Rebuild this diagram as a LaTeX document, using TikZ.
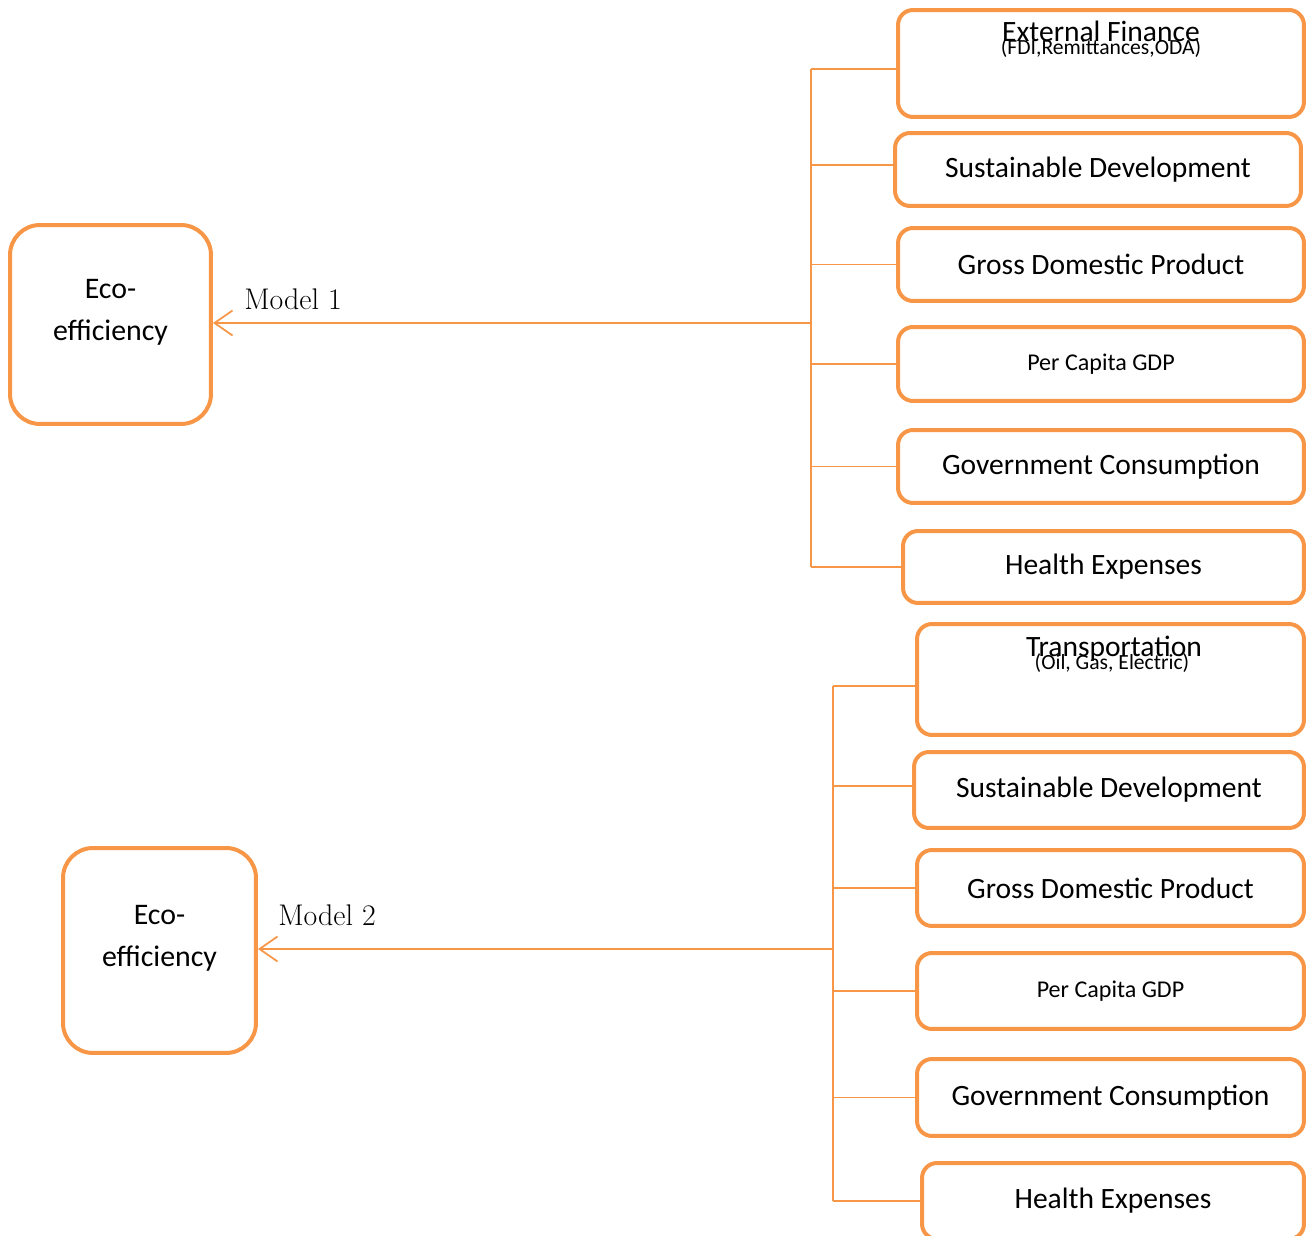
\documentclass[tikz,border=0pt]{standalone}
\usepackage{fontspec}
\setsansfont{Carlito}
\usepackage{xcolor}
\usetikzlibrary{arrows.meta,positioning}
\definecolor{accentorange}{HTML}{F79646}
\tikzset{
  factorbox/.style={draw=accentorange,line width=0.08cm,rounded corners=0.3cm,
    minimum width=8.12cm,minimum height=1.46cm,inner sep=0pt,
    font=\sffamily\fontsize{16.8}{20}\selectfont},
  ecobox/.style={draw=accentorange,line width=0.08cm,rounded corners=0.6cm,inner sep=0pt},
  ecotext/.style={align=center,inner sep=0pt,font=\sffamily\fontsize{17}{24}\selectfont},
  branch/.style={draw=accentorange,line width=0.035cm},
  feed/.style={branch,-{Straight Barb[length=0.36cm,width=0.5cm,line width=0.035cm]}},
  modellabel/.style={font=\fontsize{17}{20}\selectfont},
  smalltext/.style={font=\sffamily\fontsize{13.7}{16}\selectfont},
  subtext/.style={font=\sffamily\fontsize{12.3}{14}\selectfont,anchor=base},
  headtext/.style={font=\sffamily\fontsize{16.8}{20}\selectfont,anchor=base}
}
\begin{document}
\begin{tikzpicture}[x=0.02cm,y=-0.02cm]
  \useasboundingbox (0,0) rectangle (1306,1236);

  % Model 1 boxes
  \node [factorbox,minimum height=2.14cm] (extfin) at (1101,63.5) {};
  \node [headtext] (extfintitle) at (1101,42) {External Finance};
  \node [subtext] (extfinsub) at (1101,55) {(FDI,Remittances,ODA)};
  \node [factorbox] (susdevA) at (1098,169.5) {Sustainable Development};
  \node [factorbox] (gdpA) at (1101,264.5) {Gross Domestic Product};
  \node [factorbox,minimum height=1.48cm,smalltext] (percapA) at (1101,364) {Per Capita GDP};
  \node [factorbox] (govconA) at (1101,466.5) {Government Consumption};
  \node [factorbox,minimum width=8.02cm,minimum height=1.44cm] (healthA) at (1103.5,567) {Health Expenses};

  % Eco-efficiency, model 1
  \node [ecobox,minimum width=4.02cm,minimum height=3.98cm] (ecoA) at (110.5,324.5) {};
  \node [ecotext] (ecoAtext) at (110.5,312) {Eco-\\efficiency};
  \node [modellabel] (modelA) at (293,299) {Model 1};

  % Drawing trunk and branches, model 1
  \coordinate (trunkA) at (811,0);
  \draw [branch] (trunkA |- 0,69) -- (healthA.west -| trunkA);
  \foreach \n in {gdpA,percapA,govconA,healthA}
    \draw [branch] (\n.west) -- (\n.west -| trunkA);
  \draw [branch] (extfin.west |- 0,69) -- (trunkA |- 0,69);
  \draw [branch] (susdevA.west |- 0,165) -- (trunkA |- 0,165);
  \draw [feed] (trunkA |- 0,323) -- (ecoA.east |- 0,323);

  % Model 2 boxes
  \node [factorbox,minimum width=7.74cm,minimum height=2.22cm] (transp) at (1110.5,679.5) {};
  \node [headtext] (transptitle) at (1114,657) {Transportation};
  \node [subtext] (transpsub) at (1112,670) {(Oil, Gas, Electric)};
  \node [factorbox,minimum width=7.8cm,minimum height=1.52cm] (susdevB) at (1109,790) {Sustainable Development};
  \node [factorbox,minimum width=7.74cm,minimum height=1.52cm] (gdpB) at (1110.5,888) {Gross Domestic Product};
  \node [factorbox,minimum width=7.74cm,minimum height=1.52cm,smalltext] (percapB) at (1110.5,991) {Per Capita GDP};
  \node [factorbox,minimum width=7.74cm,minimum height=1.54cm] (govconB) at (1110.5,1097.5) {Government Consumption};
  \node [factorbox,minimum width=7.64cm,minimum height=1.52cm] (healthB) at (1113,1201) {Health Expenses};

  % Eco-efficiency, model 2
  \node [ecobox,minimum width=3.86cm,minimum height=4.1cm] (ecoB) at (159.5,950.5) {};
  \node [ecotext] (ecoBtext) at (159.5,938) {Eco-\\efficiency};
  \node [modellabel] (modelB) at (327,915) {Model 2};

  % Drawing trunk and branches, model 2
  \coordinate (trunkB) at (833,0);
  \draw [branch] (trunkB |- 0,686) -- (healthB.west -| trunkB);
  \foreach \n in {gdpB,percapB,govconB,healthB}
    \draw [branch] (\n.west) -- (\n.west -| trunkB);
  \draw [branch] (transp.west |- 0,686) -- (trunkB |- 0,686);
  \draw [branch] (susdevB.west |- 0,786) -- (trunkB |- 0,786);
  \draw [feed] (trunkB |- 0,949) -- (ecoB.east |- 0,949);
\end{tikzpicture}
\end{document}
